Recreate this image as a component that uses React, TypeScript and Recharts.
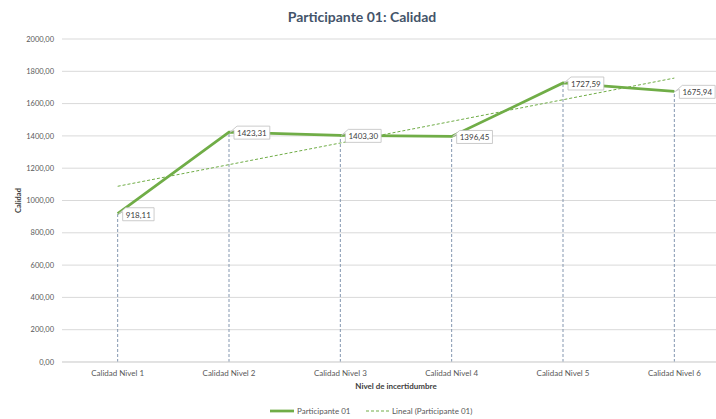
import React from 'react';
import { LineChart, Line, XAxis, YAxis, CartesianGrid, ReferenceLine, LabelList } from 'recharts';

const categories = ['Calidad Nivel 1', 'Calidad Nivel 2', 'Calidad Nivel 3', 'Calidad Nivel 4', 'Calidad Nivel 5', 'Calidad Nivel 6'];
const participante = [918.11, 1423.31, 1403.3, 1396.45, 1727.59, 1675.94];
// Linear trendline end points (straight line between them)
const trend: (number | null)[] = [1088, null, null, null, null, 1758];
const yTicks = [0, 200, 400, 600, 800, 1000, 1200, 1400, 1600, 1800, 2000];
const boundaryTicks = [0, 1, 2, 3, 4, 5, 6];

const data = categories.map((c, i) => ({ cat: c, idx: i + 0.5, p: participante[i], t: trend[i] }));

const fmt = (v: number) => Number(v).toFixed(2).replace('.', ',');

const renderLabel = (props: any) => {
  const { x, y, value } = props;
  if (x == null || y == null) return null;
  const txt = fmt(value);
  const w = txt.length * 4.4 + 5;
  const h = 13;
  const x0 = x + 5;
  const y0 = y - 6;
  const d = `M ${x0 + 3} ${y0} L ${x0 + w} ${y0} L ${x0 + w} ${y0 + h} L ${x0} ${y0 + h} L ${x0} ${y0 + 4} L ${x + 1} ${y} Z`;
  return (
    <g>
      <path d={d} fill="#fff" stroke="#BFBFBF" strokeWidth={0.8} />
      <text x={x0 + w / 2} y={y0 + h / 2 + 0.5} textAnchor="middle" dominantBaseline="central" fontSize={8} fill="#404040">
        {txt}
      </text>
    </g>
  );
};

export default function App() {
  return (
    <div style={{ position: 'fixed', left: 0, top: 0, width: 716, height: 419, overflow: 'hidden', background: '#fff', fontFamily: 'Lato, sans-serif' }}>
      <div style={{ position: 'absolute', left: 0, top: 9, width: 724, textAlign: 'center', fontSize: 14, fontWeight: 700, color: '#44546A', lineHeight: '16px' }}>
        Participante 01: Calidad
      </div>
      <div style={{ position: 'absolute', left: 0, top: 0 }}>
        <LineChart width={740} height={419} data={data} margin={{ top: 39, right: 10, bottom: 27, left: 2 }}>
          <CartesianGrid vertical={false} stroke="#D9D9D9" />
          <XAxis
            xAxisId="b"
            type="number"
            dataKey="idx"
            domain={[0, 6]}
            allowDataOverflow
            ticks={boundaryTicks}
            tick={false}
            axisLine={false}
            tickSize={3}
            tickLine={{ stroke: '#D9D9D9' }}
            height={0}
          />
          <XAxis
            dataKey="cat"
            scale="band"
            interval={0}
            height={30}
            stroke="#D9D9D9"
            tickLine={false}
            tickSize={6}
            tickMargin={2}
            tick={{ fill: '#595959', fontSize: 8 }}
            label={{ value: 'Nivel de incertidumbre', position: 'insideBottom', offset: 3, fontSize: 8, fontWeight: 700, fill: '#404040' }}
          />
          <YAxis
            domain={[0, 2000]}
            ticks={yTicks}
            width={60}
            axisLine={false}
            tickLine={false}
            tickFormatter={fmt}
            tick={{ fill: '#595959', fontSize: 7.5 }}
            label={{ value: 'Calidad', angle: -90, position: 'insideLeft', offset: 16, fontSize: 7.5, fontWeight: 700, fill: '#404040', textAnchor: 'middle' }}
          />
          {participante.map((v, i) => (
            <ReferenceLine
              key={categories[i]}
              segment={[{ x: categories[i], y: 0 }, { x: categories[i], y: v }]}
              stroke="#8497B0"
              strokeDasharray="3 2"
              strokeWidth={1}
            />
          ))}
          <Line
            dataKey="t"
            connectNulls
            dot={false}
            stroke="#70AD47"
            strokeWidth={1}
            strokeDasharray="3 2"
            isAnimationActive={false}
          />
          <Line dataKey="p" dot={false} stroke="#70AD47" strokeWidth={2.75} isAnimationActive={false}>
            <LabelList dataKey="p" content={renderLabel} />
          </Line>
        </LineChart>
      </div>
      <div style={{ position: 'absolute', top: 404, left: 0, width: 716, height: 14, fontSize: 8, color: '#595959' }}>
        <svg style={{ position: 'absolute', left: 270, top: 0 }} width={24} height={14}>
          <line x1={0} y1={7} x2={24} y2={7} stroke="#70AD47" strokeWidth={2.75} />
        </svg>
        <span style={{ position: 'absolute', left: 297, top: 1, lineHeight: '12px', whiteSpace: 'nowrap' }}>Participante 01</span>
        <svg style={{ position: 'absolute', left: 366, top: 0 }} width={25} height={14}>
          <line x1={0} y1={7} x2={25} y2={7} stroke="#70AD47" strokeWidth={1} strokeDasharray="3 2" />
        </svg>
        <span style={{ position: 'absolute', left: 392, top: 1, lineHeight: '12px', whiteSpace: 'nowrap' }}>Lineal (Participante 01)</span>
      </div>
    </div>
  );
}
